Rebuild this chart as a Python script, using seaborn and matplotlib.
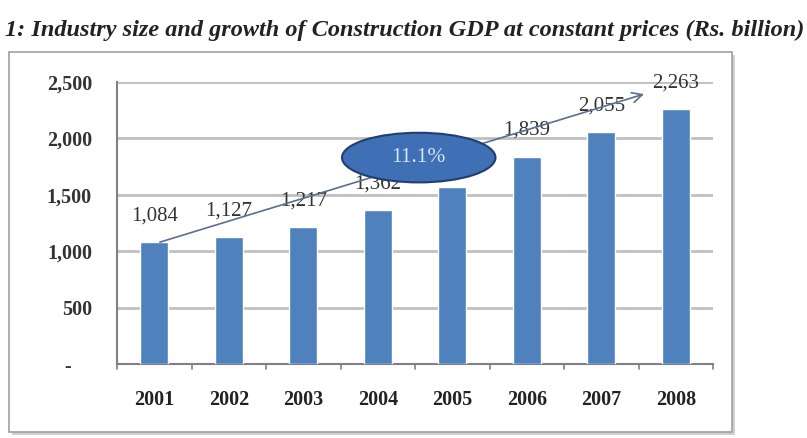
import matplotlib
matplotlib.use("Agg")
import matplotlib.pyplot as plt
import seaborn as sns
import pandas as pd
from matplotlib.patches import Ellipse, Rectangle

years = ["2001", "2002", "2003", "2004", "2005", "2006", "2007", "2008"]
gdp = [1084, 1127, 1217, 1362, 1570, 1839, 2055, 2263]
# the 2005 label is hidden behind the growth bubble in the original
value_labels = ["1,084", "1,127", "1,217", "1,362", "", "1,839", "2,055", "2,263"]
y_ticks = [0, 500, 1000, 1500, 2000, 2500]
y_ticklabels = ["-    ", "500", "1,000", "1,500", "2,000", "2,500"]
cagr_label = "11.1%"
title = "1: Industry size and growth of Construction GDP at constant prices (Rs. billion)"

sns.set_theme(style="white")
plt.rcParams["font.family"] = ["Liberation Serif", "DejaVu Serif"]

W, H = 807, 438
fig = plt.figure(figsize=(W / 100, H / 100), dpi=100)

# outer frame with shadow
fig.patches.append(Rectangle((12 / W, 1 - 435 / H), 723 / W, 380 / H, transform=fig.transFigure,
                             facecolor="#d0d0d0", edgecolor="none", zorder=-10))
fig.patches.append(Rectangle((9 / W, 1 - 432 / H), 723 / W, 380 / H, transform=fig.transFigure,
                             facecolor="white", edgecolor="#a0a0a0", linewidth=1.2, zorder=-9))

fig.text(5 / W, 1 - 30 / H, title, fontsize=17.5, fontweight="bold", fontstyle="italic",
         va="center", ha="left", color="#222222")

ax = fig.add_axes([117 / W, 1 - 364 / H, 596 / W, 282 / H])
ax.set_facecolor("none")
df = pd.DataFrame({"year": years, "gdp": gdp})
sns.barplot(data=df, x="year", y="gdp", order=years, color="#4F81BD", saturation=1,
            width=0.38, ax=ax, zorder=3)
ax.set_xlim(-0.5, len(years) - 0.5)
ax.set_ylim(0, 2500)
ax.set_yticks(y_ticks)
ax.set_yticklabels(y_ticklabels, fontsize=14.5, fontweight="bold", color="#333333")
ax.set_xticks(range(len(years)))
ax.set_xticklabels(years, fontsize=14.5, fontweight="bold", color="#222222")
ax.set_xlabel("")
ax.set_ylabel("")
ax.tick_params(axis="y", length=0, pad=18)
ax.tick_params(axis="x", length=0, pad=19)
for yv in y_ticks[1:]:
    ax.axhline(yv, color="#c0c0c0", linewidth=2, zorder=1)
for s in ["top", "right"]:
    ax.spines[s].set_visible(False)
ax.spines["left"].set_color("#808080")
ax.spines["bottom"].set_color("#808080")
ax.spines["left"].set_linewidth(1.5)
ax.spines["bottom"].set_linewidth(1.5)
for b in range(len(years) + 1):
    ax.plot([b - 0.5, b - 0.5], [0, -40], color="#808080", linewidth=1.2, clip_on=False)

for i, (v, lab) in enumerate(zip(gdp, value_labels)):
    if lab:
        ax.annotate(lab, (i, v), xytext=(0, 12), textcoords="offset points", ha="center",
                    va="bottom", fontsize=15, color="#333333", zorder=4)

ax.annotate("", xy=(6.61, 2400), xytext=(0.04, 1073),
            arrowprops=dict(arrowstyle="->", color="#5a6f90", lw=1.2, mutation_scale=18), zorder=5)

ell = Ellipse((3.55, 1830), 2.06, 440, facecolor="#3f6fb5", edgecolor="#1f3f6f", linewidth=1.5, zorder=6)
ax.add_patch(ell)
ax.text(3.55, 1830, cagr_label, ha="center", va="center", fontsize=15.5, color="#d8e6f8", zorder=7)

fig.savefig("out.png", dpi=100)
